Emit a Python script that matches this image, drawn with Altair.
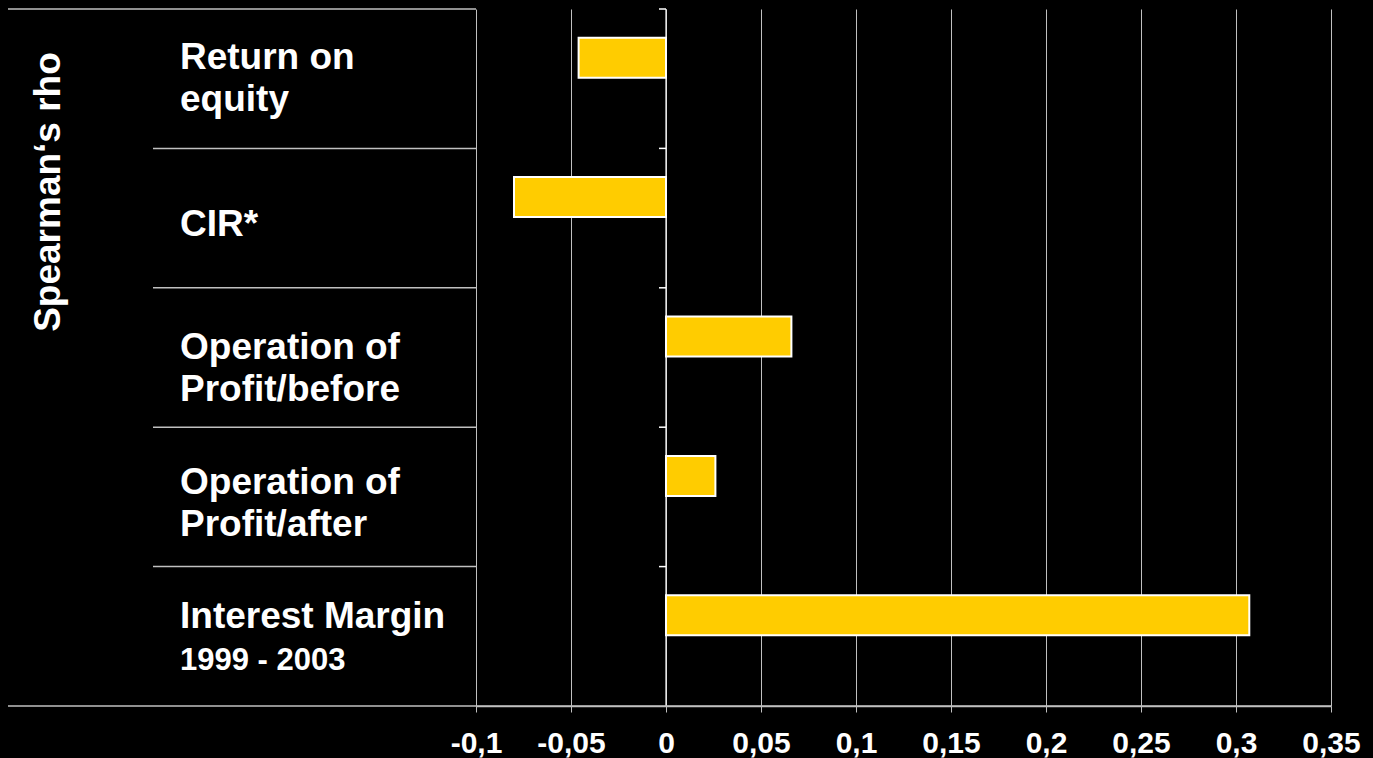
import altair as alt
import pandas as pd

# ---- data -------------------------------------------------------------
categories = [
    "Return on equity",
    "CIR*",
    "Operation of Profit/before",
    "Operation of Profit/after",
    "Interest Margin",
]
rho = [-0.046, -0.08, 0.066, 0.026, 0.307]
label_lines = [
    ["Return on", "equity"],
    ["CIR*"],
    ["Operation of", "Profit/before"],
    ["Operation of", "Profit/after"],
    ["Interest Margin"],
]
period_note = "1999 - 2003"
x_ticks = [-0.1, -0.05, 0, 0.05, 0.1, 0.15, 0.2, 0.25, 0.3, 0.35]
axis_title = "Spearman\u2018s rho"

# ---- layout / style ---------------------------------------------------
W, H = 855, 697
PAD = {"left": 476, "top": 9, "right": 42, "bottom": 52}
X_MIN, X_MAX = x_ticks[0], x_ticks[-1]
ZERO_PX = W * (0 - X_MIN) / (X_MAX - X_MIN)
label_dy = [-10, 18, 1, -3, -8]   # baseline nudge of each label block from its band centre
LINE_H = 42
FONT = "Liberation Sans"
GOLD = "#FFCC00"
LINE = "#c0c0c0"

df = pd.DataFrame({"category": categories, "rho": rho, "lines": label_lines})

y_scale = alt.Scale(domain=categories, paddingInner=0, paddingOuter=0)
x_scale = alt.Scale(domain=[X_MIN, X_MAX], nice=False, zero=False)


def y_plain(**kw):
    return alt.Y("category:N", scale=y_scale, axis=None, **kw)


# value axis with vertical grid; bars grow from zero
bars = alt.Chart(df).mark_bar(
    height=40, yOffset=-21, fill=GOLD, stroke="white", strokeWidth=2
).encode(
    x=alt.X(
        "rho:Q",
        scale=x_scale,
        axis=alt.Axis(
            values=x_ticks,
            labelExpr="replace(toString(datum.value), '.', ',')",
            grid=True, gridColor=LINE, gridWidth=1,
            domainColor=LINE, domainWidth=1.5,
            tickColor=LINE, tickSize=6, tickWidth=1,
            labelFont=FONT, labelFontSize=30, labelFontWeight="bold",
            labelColor="white", labelPadding=16,
            labelFlush=False, labelOverlap=False, title=None,
        ),
    ),
    x2=alt.datum(0),
    y=y_plain(),
)

# zero line with short row ticks pointing left
zero_line = alt.Chart(df.head(1)).mark_rule(color="white", strokeWidth=1.2).encode(
    x=alt.datum(0, scale=x_scale), y=alt.value(0), y2=alt.value(H)
)
zero_ticks = alt.Chart(df).mark_rule(color="white", strokeWidth=1.5).encode(
    y=y_plain(bandPosition=0), x=alt.value(ZERO_PX - 7), x2=alt.value(ZERO_PX)
)

# table rules separating the rows on the left
sep_df = pd.DataFrame({"category": categories[1:]})
separators = alt.Chart(sep_df).mark_rule(color=LINE, strokeWidth=1.5).encode(
    y=y_plain(bandPosition=0), x=alt.value(-323), x2=alt.value(0)
)
top_df = pd.DataFrame({"category": categories[:1]})
top_rule = alt.Chart(top_df).mark_rule(color=LINE, strokeWidth=1.5).encode(
    y=y_plain(bandPosition=0), x=alt.value(-468), x2=alt.value(0)
)
bottom_rule = alt.Chart(top_df).mark_rule(color=LINE, strokeWidth=1.5).encode(
    y=alt.value(H), x=alt.value(-468), x2=alt.value(W)
)

# row labels, one layer per row so each block can sit at its own height
label_layers = []
for i, cat in enumerate(categories):
    label_layers.append(
        alt.Chart(df)
        .transform_filter(alt.datum.category == cat)
        .mark_text(
            align="left", baseline="alphabetic", dy=label_dy[i], lineHeight=LINE_H,
            font=FONT, fontSize=37, fontWeight="bold", color="white",
        )
        .encode(y=y_plain(), x=alt.value(-296), text="lines:N")
    )

note_df = pd.DataFrame({"category": [categories[-1]], "note": [period_note]})
note = alt.Chart(note_df).mark_text(
    align="left", baseline="alphabetic", dy=label_dy[-1] + LINE_H,
    font=FONT, fontSize=31, fontWeight="bold", color="white",
).encode(y=y_plain(), x=alt.value(-296), text="note:N")

title_df = pd.DataFrame({"title": [axis_title]})
title = alt.Chart(title_df).mark_text(
    angle=270, align="center", baseline="alphabetic",
    font=FONT, fontSize=37, fontWeight="bold", color="white",
).encode(x=alt.value(-416), y=alt.value(183), text="title:N")

chart = (
    alt.layer(zero_line, zero_ticks, bars, separators, top_rule, bottom_rule,
              *label_layers, note, title)
    .properties(
        width=W, height=H,
        autosize=alt.AutoSizeParams(type="none"),
        padding=PAD,
        background="black",
    )
    .configure_view(stroke=None)
)

chart.save("out.html", embed_options={"renderer": "svg", "actions": False})
